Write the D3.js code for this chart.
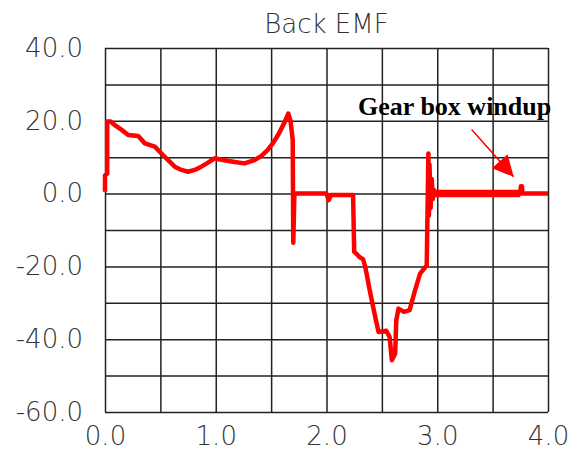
<!DOCTYPE html>
<html>
<head>
<meta charset="utf-8">
<script src="https://cdn.jsdelivr.net/npm/d3@7"></script>
<style>
  body { margin: 0; background: #fff; }
  .axis text { font-family: "DejaVu Sans", sans-serif; font-weight: 200; font-size: 26px; fill: #333; }
  .axis path { display: none; }
  .axis line { stroke: #222; stroke-width: 1.5px; }
</style>
</head>
<body>
<div class="plots"></div>
<script>
// time [s] and back EMF [V]
var time = [0.00, 0.00, 0.02, 0.02, 0.05, 0.09, 0.15, 0.21, 0.30, 0.36, 0.45, 0.51, 0.57, 0.63, 0.69, 0.75,
            0.81, 0.87, 0.93, 0.99, 1.05, 1.17, 1.26, 1.35, 1.41, 1.47, 1.52, 1.57, 1.62, 1.655, 1.675, 1.695,
            1.70, 1.71, 2.00, 2.02, 2.04, 2.24, 2.25, 2.27, 2.30, 2.33, 2.35, 2.39, 2.44, 2.47, 2.54, 2.57,
            2.59, 2.62, 2.63, 2.65, 2.70, 2.75, 2.80, 2.845, 2.905, 2.92, 2.925, 2.93, 2.94, 2.95, 2.96, 2.97, 2.98,
            3.75, 3.755, 3.765, 3.77, 4.00];
var emf  = [0.5, 5.0, 5.5, 19.8, 19.8, 18.8, 17.5, 16.1, 15.8, 13.8, 12.9, 11.0, 9.2, 7.4, 6.5, 6.0,
            6.5, 7.4, 8.5, 9.7, 9.3, 8.7, 8.3, 9.2, 10.3, 12.0, 14.0, 16.5, 19.5, 22.0, 20.0, 14.7,
            -13.5, 0.0, 0.0, -1.8, -0.4, -0.4, -16.0, -16.5, -17.5, -18.0, -20.1, -26.5, -33.9, -38.0, -37.7, -39.4,
            -45.8, -44.0, -34.8, -31.6, -32.5, -32.0, -26.5, -22.0, -19.7, 11.0, -6.0, 8.0, -4.0, 4.0, -1.5, 1.0, 0.0,
            0.0, 2.0, 2.0, 0.0, 0.0];

// gear box windup: the trace chatters round zero (drawn as a thick band) until the lash closes
var windupTime = [2.98, 3.75];
var windupEmf  = [0.0, 0.0];

var xTicks = [0, 0.5, 1, 1.5, 2, 2.5, 3, 3.5, 4];
var yTicks = [-60, -50, -40, -30, -20, -10, 0, 10, 20, 30, 40];

var W = 579, H = 453;
var margin = {top: 48, right: 31, bottom: 41, left: 105},
    width = W - margin.left - margin.right,
    height = H - margin.top - margin.bottom;

var svg = d3.select(".plots").append("svg")
    .attr("width", W)
    .attr("height", H);

var g = svg.append("g")
    .attr("transform", "translate(" + margin.left + "," + margin.top + ")");

var x = d3.scaleLinear().domain([0, 4]).range([0, width]);
var y = d3.scaleLinear().domain([-60, 40]).range([height, 0]);

// grid + labels (labels only on every other tick)
g.append("g")
    .attr("class", "axis")
    .attr("transform", "translate(0," + height + ")")
    .call(d3.axisBottom(x).tickValues(xTicks).tickSize(-height).tickPadding(15)
      .tickFormat(function(d) { return d % 1 === 0 ? d.toFixed(1) : ""; }));

g.append("g")
    .attr("class", "axis")
    .call(d3.axisLeft(y).tickValues(yTicks).tickSize(-width).tickPadding(22)
      .tickFormat(function(d) { return d % 20 === 0 ? d.toFixed(1) : ""; }));

// title
svg.append("text")
    .attr("x", margin.left + width / 2)
    .attr("y", 33)
    .attr("text-anchor", "middle")
    .style("font-family", "DejaVu Sans, sans-serif")
    .style("font-weight", "200")
    .style("font-size", "26px")
    .style("fill", "#333")
    .text("Back EMF");

var line = d3.line()
    .x(function(d) { return x(d[0]); })
    .y(function(d) { return y(d[1]); });

g.append("path")
    .datum(d3.zip(time, emf))
    .attr("fill", "none")
    .attr("stroke", "#ff0000")
    .attr("stroke-width", 4.5)
    .attr("stroke-linejoin", "round")
    .attr("d", line);

g.append("path")
    .datum(d3.zip(windupTime, windupEmf))
    .attr("fill", "none")
    .attr("stroke", "#ff0000")
    .attr("stroke-width", 7.5)
    .attr("d", line);

// annotation
svg.append("defs").append("marker")
    .attr("id", "head")
    .attr("viewBox", "0 0 10 10")
    .attr("refX", 10).attr("refY", 5)
    .attr("markerWidth", 21).attr("markerHeight", 21)
    .attr("markerUnits", "userSpaceOnUse")
    .attr("orient", "auto")
  .append("path")
    .attr("d", "M0,0L10,5L0,10Z")
    .attr("fill", "#ff0000");

g.append("line")
    .attr("x1", x(3.31)).attr("y1", y(17.6))
    .attr("x2", x(3.69)).attr("y2", y(4.6))
    .attr("stroke", "#ff0000")
    .attr("stroke-width", 1.5)
    .attr("marker-end", "url(#head)");

g.append("text")
    .attr("x", x(2.285))
    .attr("y", y(21.6))
    .style("font-family", "Liberation Serif, Times New Roman, serif")
    .style("font-weight", "bold")
    .style("font-size", "26px")
    .style("fill", "#000")
    .text("Gear box windup");
</script>
</body>
</html>
